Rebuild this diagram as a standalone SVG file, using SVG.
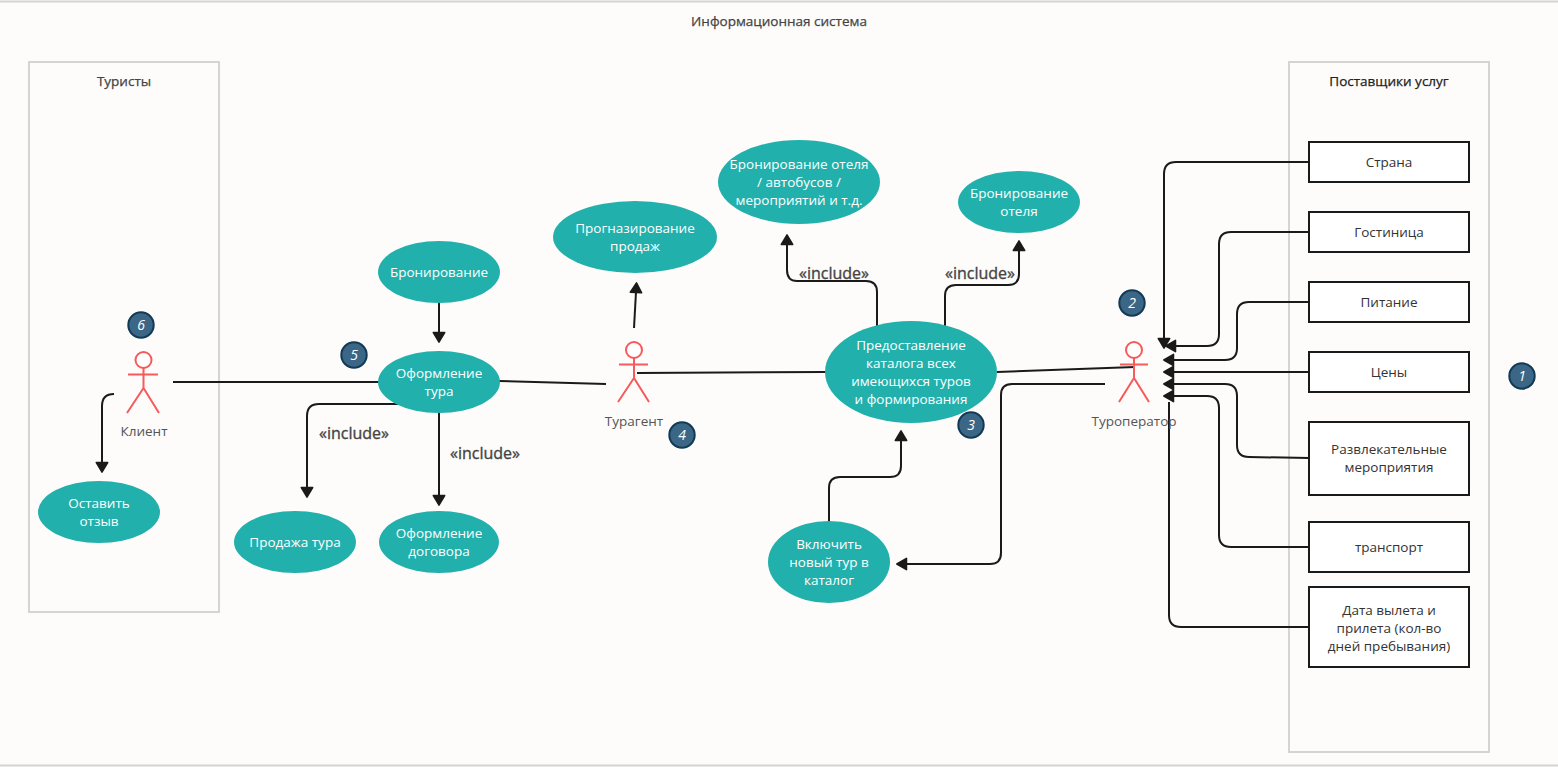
<svg xmlns="http://www.w3.org/2000/svg" width="1558" height="767" viewBox="0 0 1558 767">
<style>
text{font-family:"Open Sans","Noto Sans","Liberation Sans",sans-serif;text-anchor:middle;font-size:13.5px}
.frame{fill:none;stroke:#d4d4d4;stroke-width:2}
.lbl{fill:#444;stroke:#444;stroke-width:.25}
.uc ellipse{fill:#22b0ac}
.uc text{fill:#fff}
.box rect{fill:#fff;stroke:#1a1a1a;stroke-width:2}
.box text{fill:#333}
.act path{fill:none;stroke:#f65a5a;stroke-width:2}
.act circle{fill:#fff;stroke:#f65a5a;stroke-width:2}
.act text{fill:#555}
.num circle{fill:#3b6685;stroke:#113a55;stroke-width:2}
.num text{fill:#fff;font-style:italic;font-size:14px}
.conn path{fill:none;stroke:#1a1a1a;stroke-width:2}
.arr{marker-end:url(#a)}
.inc{font-size:16px;fill:#444;stroke:#444;stroke-width:.35}
</style>
<defs><marker id="a" markerUnits="userSpaceOnUse" overflow="visible" markerWidth="14" markerHeight="14" refX="1" refY="6.5" orient="auto"><path d="M0.500 0.800L10.200 6.500L0.500 12.200Z" fill="#1a1a1a" stroke="#1a1a1a" stroke-width="1.500" stroke-linejoin="round"/></marker></defs>
<rect width="1558" height="767" fill="#fdfcfa"/>
<g id="system"><path class="frame" d="M0 1.500H1558M0 765.500H1558"/><text class="lbl" x="779" y="26">Информационная система</text></g>
<g id="tourists"><rect class="frame" x="29" y="62" width="190" height="550"/><text class="lbl" x="124" y="86">Туристы</text></g>
<g id="suppliers"><rect class="frame" x="1289" y="62" width="200" height="690"/><text x="1389" y="86" fill="#222" stroke="#222" stroke-width=".25">Поставщики услуг</text></g>
<g class="conn" id="connectors">
<path d="M173 382H379"/>
<path d="M114 394Q102 394 102 406V463" class="arr"/>
<path d="M439 302V333" class="arr"/>
<path d="M399 404H319Q307 404 307 416V488" class="arr"/>
<path d="M439 412V496" class="arr"/>
<path d="M499 381L606 384"/>
<path d="M634 328L636 292" class="arr"/>
<path d="M637 373L826 372"/>
<path d="M877 326V292Q877 281 866 281H797Q787 281 787 270V244" class="arr"/>
<path d="M945 326V296Q945 285 956 285H1008Q1019 285 1019 274V250" class="arr"/>
<path d="M997 372L1135 367"/>
<path d="M829 522V488Q829 477 840 477H890Q901 477 901 466V440" class="arr"/>
<path d="M1105 384H1012Q1001 384 1001 395V553Q1001 564 990 564H906" class="arr"/>
<path d="M1309 162H1176Q1164 162 1164 174V339" class="arr"/>
<path d="M1309 232H1231Q1219 232 1219 244V334Q1219 346 1207 346H1175" class="arr"/>
<path d="M1309 302H1249Q1237 302 1237 314V348Q1237 360 1225 360H1173" class="arr"/>
<path d="M1309 372H1173" class="arr"/>
<path d="M1309 458L1249 457Q1237 457 1237 445V396Q1237 384 1225 384H1173" class="arr"/>
<path d="M1309 547H1231Q1219 547 1219 535V408Q1219 396 1207 396H1173" class="arr"/>
<path d="M1309 627H1181Q1169 627 1169 615V402"/>
</g>
<text class="inc" x="834" y="279">«include»</text>
<text class="inc" x="980" y="279">«include»</text>
<text class="inc" x="354" y="439">«include»</text>
<text class="inc" x="485" y="459">«include»</text>
<g class="uc" id="uc-book"><ellipse cx="439" cy="272" rx="61" ry="31"/><text x="439" y="277">Бронирование</text></g>
<g class="uc" id="uc-order"><ellipse cx="439" cy="382" rx="61" ry="31"/><text x="439" y="378">Оформление</text><text x="439" y="396">тура</text></g>
<g class="uc" id="uc-sale"><ellipse cx="295" cy="542" rx="61" ry="31"/><text x="295" y="547">Продажа тура</text></g>
<g class="uc" id="uc-contract"><ellipse cx="439" cy="542" rx="60" ry="31"/><text x="439" y="538">Оформление</text><text x="439" y="556">договора</text></g>
<g class="uc" id="uc-review"><ellipse cx="99" cy="512" rx="61" ry="31"/><text x="99" y="508">Оставить</text><text x="99" y="526">отзыв</text></g>
<g class="uc" id="uc-forecast"><ellipse cx="635" cy="237" rx="82" ry="36"/><text x="635" y="233">Прогназирование</text><text x="635" y="251">продаж</text></g>
<g class="uc" id="uc-hotelbus"><ellipse cx="799" cy="182" rx="81" ry="42"/><text x="799" y="169">Бронирование отеля</text><text x="799" y="187">/ автобусов /</text><text x="799" y="205">мероприятий и т.д.</text></g>
<g class="uc" id="uc-hotel"><ellipse cx="1019" cy="202" rx="61" ry="31"/><text x="1019" y="198">Бронирование</text><text x="1019" y="216">отеля</text></g>
<g class="uc" id="uc-catalog"><ellipse cx="911" cy="372" rx="86" ry="51"/><text x="911" y="350">Предоставление</text><text x="911" y="368">каталога всех</text><text x="911" y="386">имеющихся туров</text><text x="911" y="404">и формирования</text></g>
<g class="uc" id="uc-newtour"><ellipse cx="829" cy="562" rx="61" ry="41"/><text x="829" y="549">Включить</text><text x="829" y="567">новый тур в</text><text x="829" y="585">каталог</text></g>
<g class="act" id="actor-client"><circle cx="143.500" cy="360" r="8"/><path d="M143.500 368V388M128 374.500H158M143.500 388L127 413M143.500 388L159 413"/><text x="144" y="436">Клиент</text></g>
<g class="act" id="actor-agent"><circle cx="634" cy="350" r="8"/><path d="M634 358V378M619 364.500H648M634 378L618 402M634 378L649 402"/><text x="634" y="426">Турагент</text></g>
<g class="act" id="actor-operator"><circle cx="1134" cy="350" r="8"/><path d="M1134 358V378M1120 364.500H1148M1134 378L1119 402M1134 378L1149 402"/><text x="1134" y="426">Туроператор</text></g>
<g class="box" id="b1"><rect x="1309" y="142" width="160" height="40"/><text x="1389" y="167">Страна</text></g>
<g class="box" id="b2"><rect x="1309" y="212" width="160" height="40"/><text x="1389" y="237">Гостиница</text></g>
<g class="box" id="b3"><rect x="1309" y="282" width="160" height="40"/><text x="1389" y="307">Питание</text></g>
<g class="box" id="b4"><rect x="1309" y="352" width="160" height="40"/><text x="1389" y="377">Цены</text></g>
<g class="box" id="b5"><rect x="1309" y="422" width="160" height="73"/><text x="1389" y="454">Развлекательные</text><text x="1389" y="472">мероприятия</text></g>
<g class="box" id="b6"><rect x="1309" y="522" width="160" height="50"/><text x="1389" y="552">транспорт</text></g>
<g class="box" id="b7"><rect x="1309" y="587" width="160" height="80"/><text x="1389" y="615">Дата вылета и</text><text x="1389" y="633">прилета (кол-во</text><text x="1389" y="651">дней пребывания)</text></g>
<g class="num" id="n1"><circle cx="1522" cy="376" r="12.700"/><text x="1522" y="381">1</text></g>
<g class="num" id="n2"><circle cx="1132" cy="303" r="12.700"/><text x="1132" y="308">2</text></g>
<g class="num" id="n3"><circle cx="971" cy="425" r="12.700"/><text x="971" y="430">3</text></g>
<g class="num" id="n4"><circle cx="682" cy="435" r="12.700"/><text x="682" y="440">4</text></g>
<g class="num" id="n5"><circle cx="354" cy="355" r="12.700"/><text x="354" y="360">5</text></g>
<g class="num" id="n6"><circle cx="141" cy="325" r="12.700"/><text x="141" y="330">6</text></g>
</svg>
